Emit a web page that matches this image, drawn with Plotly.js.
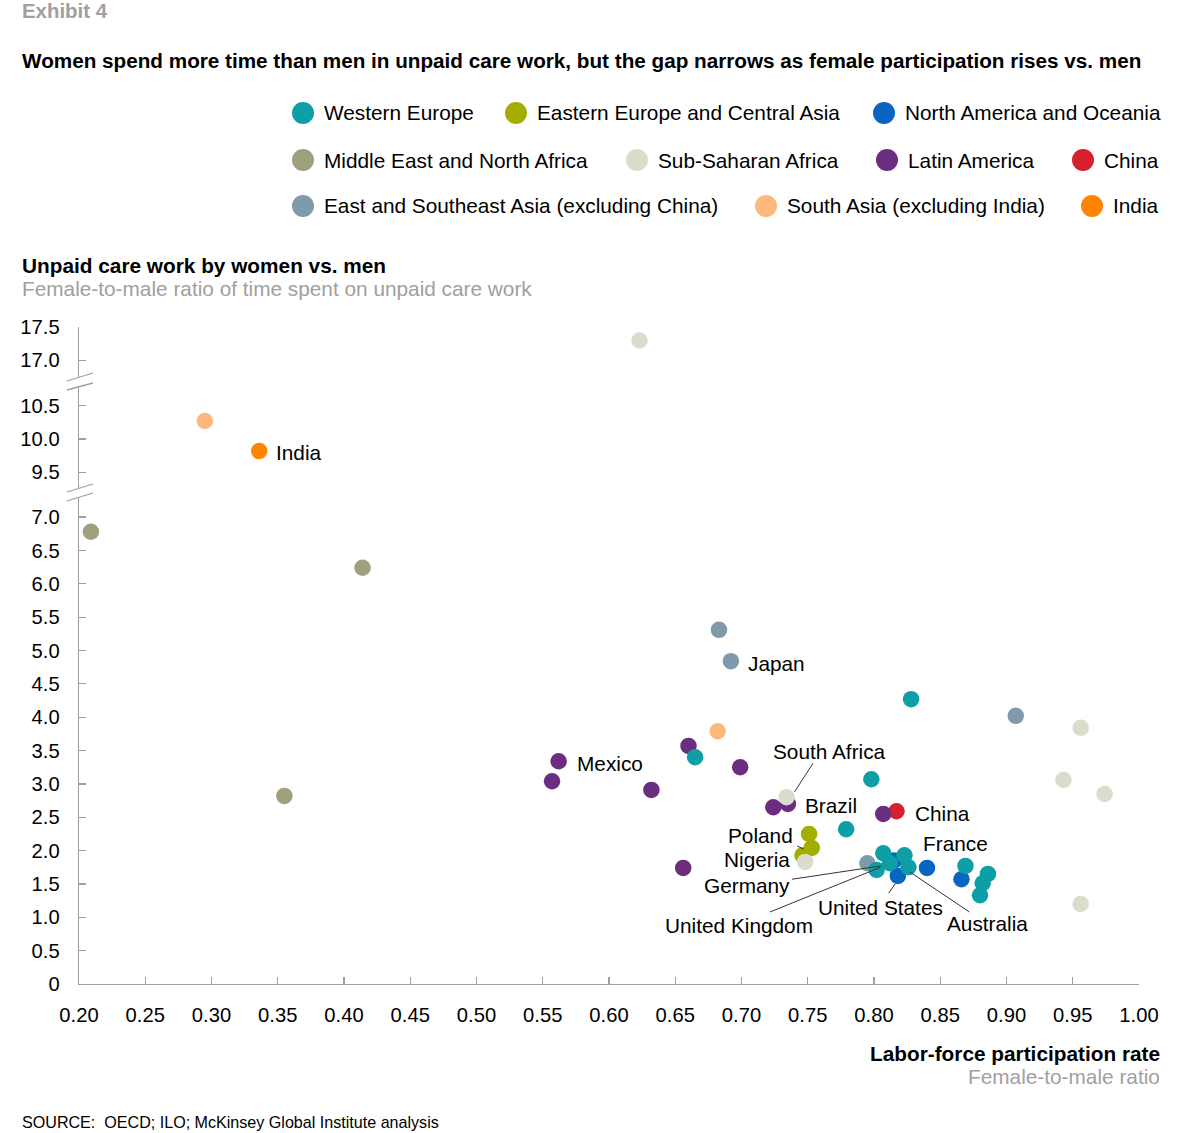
<!DOCTYPE html>
<html><head><meta charset="utf-8">
<script src="https://cdn.plot.ly/plotly-3.0.1.min.js"></script>
<style>body{margin:0;background:#fff}#chart{width:1189px;height:1133px}</style>
</head><body><div id="chart"></div>
<script>
// ---------- DATA ----------
const regionNames = ["Western Europe","Eastern Europe and Central Asia","North America and Oceania",
  "Middle East and North Africa","Sub-Saharan Africa","Latin America","China",
  "East and Southeast Asia (excluding China)","South Asia (excluding India)","India"];
const regionColors = ["#0E9EA6","#A3AE00","#0A64C2","#A09F7E","#DCDCCD","#6A2D80","#D6202E","#7E9AAB","#FDB97B","#FF8500"];

const weX = [0.828,0.665,0.798,0.779,0.807,0.802,0.812,0.823,0.826,0.869,0.886,0.882,0.880];
const weY = [4.27,3.40,3.07,2.32,1.96,1.71,1.81,1.93,1.75,1.77,1.65,1.51,1.33];
const eeX = [0.751,0.753,0.746];
const eeY = [2.25,2.04,1.93];
const naX = [0.815,0.818,0.840,0.866];
const naY = [1.85,1.62,1.74,1.57];
const meX = [0.209,0.414,0.355];
const meY = [6.78,6.24,2.82];
const ssX = [0.623,0.956,0.943,0.974,0.734,0.748,0.956];
const ssY = [17.30,3.84,3.06,2.85,2.80,1.83,1.20];
const laX = [0.660,0.562,0.557,0.699,0.632,0.724,0.735,0.807,0.656];
const laY = [3.57,3.34,3.04,3.25,2.91,2.65,2.70,2.55,1.74];
const cnX = [0.817];
const cnY = [2.59];
const esX = [0.683,0.692,0.907,0.795];
const esY = [5.31,4.84,4.02,1.81];
const saX = [0.295,0.682];
const saY = [10.27,3.79];
const inX = [0.336];
const inY = [9.82];

const xTicks = [0.20,0.25,0.30,0.35,0.40,0.45,0.50,0.55,0.60,0.65,0.70,0.75,0.80,0.85,0.90,0.95,1.00];
const yTicksLow = [0,0.5,1.0,1.5,2.0,2.5,3.0,3.5,4.0,4.5,5.0,5.5,6.0,6.5,7.0];
const yTicksMid = [9.5,10.0,10.5];
const yTicksTop = [17.0,17.5];

const labelText = ["India","Japan","Mexico","South Africa","Brazil","China","Poland","France","Nigeria","Germany","United States","Australia","United Kingdom"];

// ---------- LAYOUT HELPERS ----------
const W = 1189, H = 1133, ML = 79, MR = 50, MT = 327, MB = 149;
const PW = W - ML - MR, PH = H - MT - MB;
const px = p => (p - ML) / PW;          // pixel x -> paper x
const py = p => (H - MB - p) / PH;      // pixel y -> paper y
const FONT = "Liberation Sans, Arial, sans-serif";
const TS = 20.8;

// ---------- TRACES ----------
// draw order (bottom to top)
const series = [
  [6, cnX, cnY],[2, naX, naY],[7, esX, esY],[1, eeX, eeY],[5, laX, laY],
  [0, weX, weY],[4, ssX, ssY],[3, meX, meY],[8, saX, saY],[9, inX, inY]
];
function segAxis(v){ return v >= 16 ? 'y3' : (v >= 8 ? 'y2' : 'y'); }
const traces = [];
series.forEach(([ri, xs, ys]) => {
  ['y','y2','y3'].forEach(ax => {
    const sx = [], sy = [];
    xs.forEach((xv, i) => { if (segAxis(ys[i]) === ax) { sx.push(xv); sy.push(ys[i]); } });
    if (sx.length) traces.push({
      type:'scatter', mode:'markers', x:sx, y:sy, xaxis:'x', yaxis:ax,
      name: regionNames[ri], showlegend:false, hoverinfo:'x+y+name',
      marker:{size:16.5, color:regionColors[ri], line:{width:0}}
    });
  });
});

// ---------- AXES ----------
const axCol = '#A0A0A0';
const baseAx = {showline:true, linecolor:axCol, linewidth:1.3, ticks:'inside', ticklen:7,
  tickcolor:axCol, tickwidth:1.3, showgrid:false, zeroline:false, fixedrange:true,
  tickfont:{family:FONT, size:20.2, color:'#000'}};
const fmt1 = v => v === 0 ? '0' : v.toFixed(1);

const layout = {
  width:W, height:H, paper_bgcolor:'#fff', plot_bgcolor:'#fff',
  margin:{l:ML, r:MR, t:MT, b:MB, pad:0},
  showlegend:false,
  font:{family:FONT, color:'#000'},
  xaxis: Object.assign({}, baseAx, {range:[0.2,1.0], anchor:'y', tickvals:xTicks,
    ticktext:xTicks.map(v=>v.toFixed(2)), ticklabelstandoff:12}),
  yaxis: Object.assign({}, baseAx, {domain:[0, py(497)], range:[0, (984-497)/66.7],
    tickvals:yTicksLow, ticktext:yTicksLow.map(fmt1), anchor:'x', ticklabelstandoff:14}),
  yaxis2: Object.assign({}, baseAx, {domain:[py(488), py(386)],
    range:[10+(439-488)/66.7, 10+(439-386)/66.7],
    tickvals:yTicksMid, ticktext:yTicksMid.map(fmt1), anchor:'x', ticklabelstandoff:14}),
  yaxis3: Object.assign({}, baseAx, {domain:[py(377), 1],
    range:[17+(360-377)/66.7, 17.505],
    tickvals:yTicksTop, ticktext:yTicksTop.map(fmt1), anchor:'x', ticklabelstandoff:14}),
  shapes:[], annotations:[]
};

// axis break marks
[[492,484],[501,493],[381,373],[390,383]].forEach(([a,b]) => {
  layout.shapes.push({type:'line', xref:'paper', yref:'paper', x0:px(67), y0:py(a), x1:px(93), y1:py(b),
    line:{color:axCol, width:1.3}});
});

// leader lines (data coords)
const leaders = [
  [0.754,3.31,0.740,2.88],[0.742,2.07,0.747,2.02],[0.738,1.57,0.805,1.77],
  [0.7215,1.08,0.805,1.75],[0.811,1.36,0.816,1.50],[0.872,1.08,0.827,1.68]
];
leaders.forEach(([x0,y0,x1,y1]) => layout.shapes.push({type:'line', xref:'x', yref:'y',
  x0, y0, x1, y1, line:{color:'#333', width:1}}));

// point labels
const labelPos = [
  [0.3472,9.805,'y2','left'],[0.7035,4.81,'y','left'],[0.5745,3.30,'y','left'],
  [0.7225,3.49,'y','left'],[0.7465,2.68,'y','left'],[0.8295,2.55,'y','left'],
  [0.7405,2.23,'y','right'],[0.8355,2.10,'y','left'],[0.7381,1.86,'y','right'],
  [0.7381,1.48,'y','right'],[0.7565,1.14,'y','left'],[0.8535,0.91,'y','left'],
  [0.7555,0.88,'y','right']
];
labelText.forEach((t,i) => {
  const [x,y,yr,xa] = labelPos[i];
  layout.annotations.push({text:t, x, y, xref:'x', yref:yr, xanchor:xa, yanchor:'middle',
    showarrow:false, font:{family:FONT, size:TS, color:'#000'}});
});

// titles (pixel x corrected for annotation padding)
function txt(t, pxX, pxY, size, color, xa, bold){
  const adj = xa === 'left' ? -2 : 2;
  layout.annotations.push({text: bold ? '<b>'+t+'</b>' : t, xref:'paper', yref:'paper',
    x:px(pxX + adj), y:py(pxY), xanchor:xa, yanchor:'middle', showarrow:false,
    font:{family:FONT, size, color}});
}
txt('Exhibit 4', 22, 11, 20.4, '#A0A0A0', 'left', true);
txt('Women spend more time than men in unpaid care work, but the gap narrows as female participation rises vs. men', 22, 61, 20.7, '#000', 'left', true);
txt('Unpaid care work by women vs. men', 22, 266, TS, '#000', 'left', true);
txt('Female-to-male ratio of time spent on unpaid care work', 22, 289, TS, '#A0A0A0', 'left', false);
txt('Labor-force participation rate', 1160, 1053, TS, '#000', 'right', true);
txt('Female-to-male ratio', 1160, 1076, TS, '#A0A0A0', 'right', false);
txt('SOURCE:  OECD; ILO; McKinsey Global Institute analysis', 22, 1122, 16.1, '#000', 'left', false);

// legend (custom, from region arrays)
const legendSlots = [[0,303,113],[1,516,113],[2,884,113],[3,303,160],[4,637,160],[5,887,160],[6,1083,160],[7,303,206],[8,766,206],[9,1092,206]];
const R = 11;
legendSlots.forEach(([ri,cx,cy]) => {
  layout.shapes.push({type:'circle', xref:'paper', yref:'paper', x0:px(cx-R), x1:px(cx+R),
    y0:py(cy+R), y1:py(cy-R), fillcolor:regionColors[ri], line:{width:0}});
  txt(regionNames[ri], cx+21, cy, TS, '#000', 'left', false);
});

Plotly.newPlot('chart', traces, layout, {displayModeBar:false, staticPlot:true});
</script></body></html>
